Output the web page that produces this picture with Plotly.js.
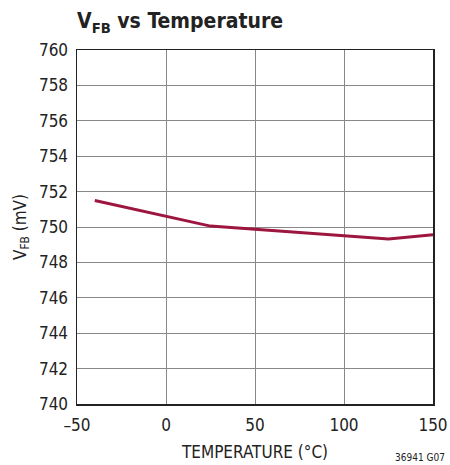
<!DOCTYPE html>
<html>
<head>
<meta charset="utf-8">
<script src="https://cdn.plot.ly/plotly-3.0.1.min.js"></script>
<style>html,body{margin:0;padding:0;background:#fff;}#chart{width:450px;height:465px;}</style>
</head>
<body>
<div id="chart"></div>
<script>
var temperature = [-40, 25, 125, 150];
var vfb = [751.5, 750.05, 749.32, 749.56];
var xTicks = [-50, 0, 50, 100, 150];
var xTickText = ['\u201350', '0', '50', '100', '150'];
var yTicks = [740, 742, 744, 746, 748, 750, 752, 754, 756, 758, 760];

var FONT = '"DejaVu Sans Condensed", "Liberation Sans Narrow", "Arial Narrow", sans-serif';

var trace = {
  x: temperature, y: vfb, type: 'scatter', mode: 'lines',
  line: {color: '#9c1640', width: 3}, hoverinfo: 'skip'
};

var layout = {
  width: 450, height: 465,
  margin: {l: 77, r: 17, t: 50, b: 61},
  paper_bgcolor: '#fff', plot_bgcolor: '#fff',
  showlegend: false,
  font: {family: FONT, color: '#222', size: 17},
  title: {
    text: '<b>V<sub>FB</sub> vs Temperature</b>',
    font: {family: FONT, size: 21, color: '#222'},
    x: 0, xref: 'paper', xanchor: 'left',
    y: 1 - 21/465, yref: 'container', yanchor: 'middle'
  },
  xaxis: {
    range: [-50, 150], tickvals: xTicks, ticktext: xTickText,
    showgrid: true, gridcolor: '#888', gridwidth: 1,
    showline: true, linecolor: '#222', linewidth: 1.5, mirror: true,
    zeroline: false, ticks: '', ticklabelstandoff: 5,
    tickfont: {size: 17, family: FONT, color: '#222'},
    title: {text: 'TEMPERATURE (°C)', font: {size: 17, family: FONT, color: '#222'}, standoff: 12}
  },
  yaxis: {
    range: [740, 760], tickvals: yTicks,
    showgrid: true, gridcolor: '#888', gridwidth: 1,
    showline: true, linecolor: '#222', linewidth: 1.5, mirror: true,
    zeroline: false, ticks: '', ticklabelstandoff: 4,
    tickfont: {size: 17, family: FONT, color: '#222'},
    title: {text: 'V<sub>FB</sub> (mV)', font: {size: 17, family: FONT, color: '#222'}, standoff: 8}
  },
  annotations: [{
    text: '36941 G07', xref: 'paper', yref: 'paper', x: 1.04, y: -0.1525,
    xanchor: 'right', yanchor: 'middle', showarrow: false,
    font: {size: 10, family: FONT, color: '#222'}
  }]
};

Plotly.newPlot('chart', [trace], layout, {displayModeBar: false, staticPlot: true});
</script>
</body>
</html>
